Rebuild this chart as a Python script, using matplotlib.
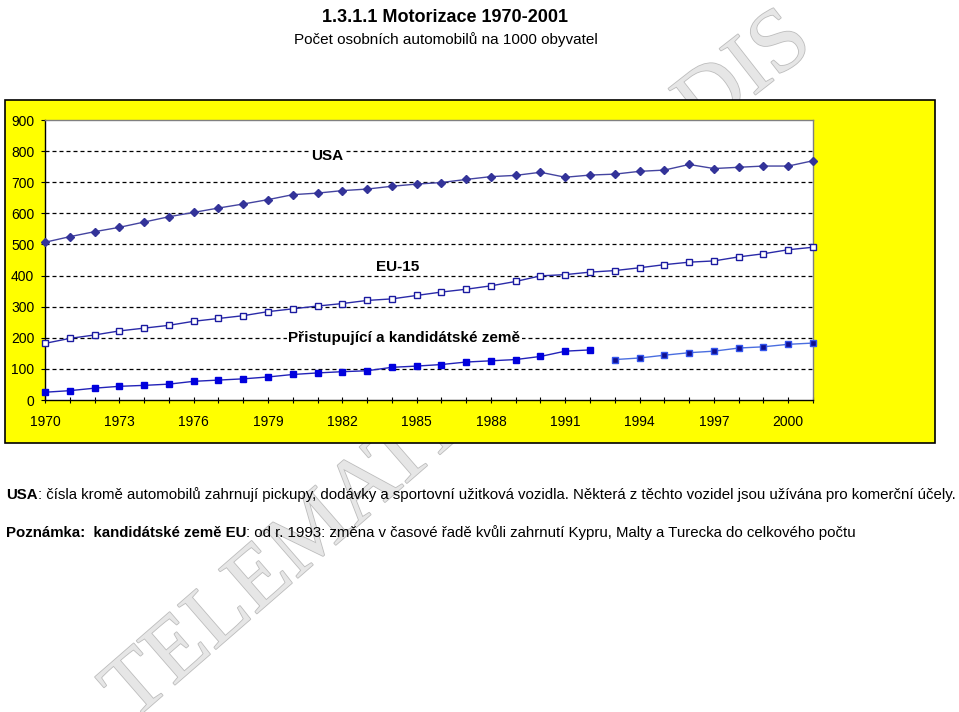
import matplotlib
matplotlib.use("Agg")
import matplotlib.pyplot as plt
from matplotlib.patches import Rectangle
import matplotlib.patheffects as pe

plt.rcParams['font.family'] = ['Liberation Sans', 'DejaVu Sans']

# data (cars per 1000 inhabitants)
years = list(range(1970, 2002))
usa = [507, 525, 541, 555, 572, 589, 603, 617, 630, 644, 660, 665, 673, 678, 687, 694,
       699, 709, 718, 722, 732, 716, 723, 726, 735, 739, 757, 744, 748, 752, 752, 769]
eu15 = [182, 198, 209, 222, 231, 240, 253, 262, 271, 284, 293, 302, 310, 320, 325, 336,
        347, 356, 367, 381, 399, 403, 411, 416, 425, 435, 443, 447, 460, 470, 483, 491]
cand_years_old = list(range(1970, 1993))
cand_old = [25, 30, 38, 44, 47, 51, 60, 64, 68, 74, 82, 87, 91, 94, 105, 109, 114, 122,
            126, 130, 140, 157, 161]
cand_years_new = list(range(1993, 2002))
cand_new = [130, 135, 144, 152, 157, 167, 171, 179, 183]

W, H = 959, 712
fig = plt.figure(figsize=(W / 100, H / 100), dpi=100)


def fx(px):
    return px / W


def fy(py):
    return 1 - py / H


# watermark behind the chart box
wm = dict(family=['Liberation Serif', 'DejaVu Serif'], fontsize=64, color='#e6e6e6',
          rotation_mode='anchor', va='baseline', zorder=-5,
          path_effects=[pe.withStroke(linewidth=1.2, foreground='#bdbdbd')])
fig.text(fx(132), fy(722), 'TELEMATIKA', ha='left', rotation=41, **wm)
fig.text(fx(815), fy(48), 'PARADIS', ha='right', rotation=38, **wm)

# yellow chart box
fig.add_artist(Rectangle((fx(5), fy(443)), 930 / W, 343 / H, transform=fig.transFigure,
                         facecolor='#ffff00', edgecolor='black', lw=1.2, zorder=-1))

# titles
fig.text(fx(445), fy(18), '1.3.1.1 Motorizace 1970-2001', ha='center', va='center',
         fontsize=13, fontweight='bold')
fig.text(fx(446), fy(40), 'Počet osobních automobilů na 1000 obyvatel', ha='center',
         va='center', fontsize=11)

ax = fig.add_axes([fx(45), fy(400), 768 / W, 280 / H])
ax.set_facecolor('white')

ax.plot(years, usa, color='#4444a0', lw=1.0, marker='D', ms=4.5,
        mfc='#333399', mec='#333399', clip_on=False, zorder=4)
ax.plot(years, eu15, color='#2a2aa8', lw=1.0, marker='s', ms=4.3,
        mfc='white', mec='#1a1aa0', mew=1.0, clip_on=False, zorder=4)
ax.plot(cand_years_old, cand_old, color='#2222b8', lw=1.0, marker='s', ms=4.6,
        mfc='#0000dd', mec='#0000dd', clip_on=False, zorder=4)
ax.plot(cand_years_new, cand_new, color='#4a6ee0', lw=1.0, marker='s', ms=4.6,
        mfc='#101090', mec='#3355ee', mew=1.0, clip_on=False, zorder=4)

ax.set_xlim(1970, 2001)
ax.set_ylim(0, 900)
ax.set_yticks(range(0, 1000, 100))
ax.set_xticks(years)
ax.set_xticklabels([str(y) if (y - 1970) % 3 == 0 else '' for y in years])

ax.yaxis.grid(True, color='black', ls=(0, (3.2, 2.4)), lw=0.9)
for gl, v in zip(ax.get_ygridlines(), ax.get_yticks()):
    if v in (0, 900):
        gl.set_visible(False)

ax.tick_params(axis='y', direction='out', length=3.2, width=0.8, pad=4.5, labelsize=10)
ax.tick_params(axis='x', direction='inout', length=5, width=0.8, pad=8.5, labelsize=10)
for s in ('left', 'bottom'):
    ax.spines[s].set_color('black')
    ax.spines[s].set_linewidth(1.0)
for s in ('top', 'right'):
    ax.spines[s].set_color('#808080')
    ax.spines[s].set_linewidth(1.0)

lab = dict(ha='center', va='center', fontsize=11, fontweight='bold',
           family=['Liberation Sans Narrow', 'Liberation Sans', 'DejaVu Sans'],
           bbox=dict(facecolor='white', edgecolor='none', pad=1), zorder=5)
ax.text(1981.4, 784, 'USA', **lab)
ax.text(1984.25, 428, 'EU-15', **lab)
ax.text(1984.5, 198, 'Přistupující a kandidátské země', **lab)

# notes below the chart, bold and regular parts
r = fig.canvas.get_renderer()


def note(y, parts):
    x = 6
    for s, bold in parts:
        t = fig.text(fx(x), fy(y), s, ha='left', va='baseline', fontsize=10.8,
                     fontweight='bold' if bold else 'normal')
        x = t.get_window_extent(r).x1


note(499, [('USA', True),
           (': čísla kromě automobilů zahrnují pickupy, dodávky a sportovní užitková vozidla. '
            'Některá z těchto vozidel jsou užívána pro komerční účely.', False)])
note(537, [('Poznámka:  kandidátské země EU', True),
           (': od r. 1993: změna v časové řadě kvůli zahrnutí Kypru, Malty a Turecka '
            'do celkového počtu', False)])

fig.savefig('out.png', dpi=100)
